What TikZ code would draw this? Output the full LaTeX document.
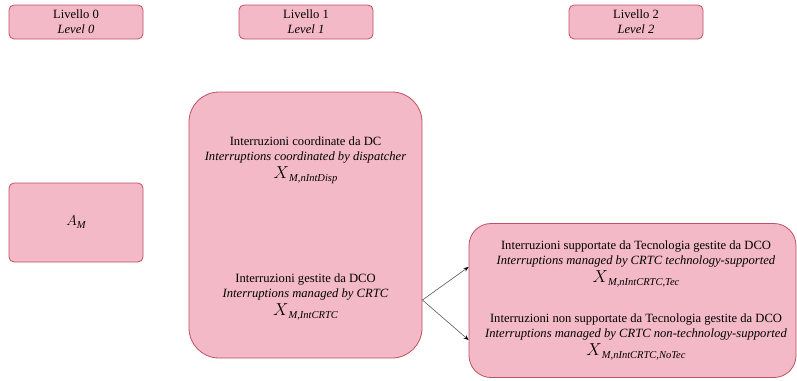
\documentclass[tikz,border=0pt]{standalone}
\usepackage{fontspec}
\setmainfont{Liberation Serif}
\usetikzlibrary{positioning,calc,arrows.meta}
\definecolor{boxfill}{RGB}{244,185,198}
\definecolor{boxline}{RGB}{192,80,99}
\newcommand{\Xm}[1]{{\fontsize{16}{16}\selectfont$X$}{\fontsize{10.5}{10}\selectfont\raisebox{-3pt}{\itshape #1}}}

\begin{document}
\begin{tikzpicture}[x=1pt,y=-1pt,
    lvl/.style={draw=boxline,fill=boxfill,line width=0.8pt,rounded corners=5pt,minimum width=134pt,minimum height=34pt,inner sep=0pt,align=center,font=\fontsize{12.6}{15}\selectfont},
    txt/.style={align=center,inner sep=0pt,font=\fontsize{12.6}{15}\selectfont},
    arr/.style={draw=black!65,line width=0.6pt,-{Stealth[length=5pt,width=4pt,color=black]}}]
    \useasboundingbox (0,0) rectangle (797,380);
	  \node[lvl] (lv0) at (76,22) {Livello 0\\ \textit{Level 0}};
	  \node[lvl] (lv1) at (306,22) {Livello 1\\ \textit{Level 1}};
	  \node[lvl] (lv2) at (636,22) {Livello 2\\ \textit{Level 2}};
		\node[lvl,minimum height=79pt] (am) at (76,222.5) {{\fontsize{15}{15}\selectfont$A$}{\fontsize{10.5}{10}\selectfont\raisebox{-3pt}{\itshape M}}};
		\node[lvl,rounded corners=30pt,minimum width=233pt,minimum height=266pt] (big) at (305.5,225) {};
		\node[lvl,rounded corners=22pt,minimum width=327pt,minimum height=154pt] (sub) at (632.5,300.5) {};
		\node[txt] (disp) at (305.5,160) {Interruzioni coordinate da DC\\ \textit{Interruptions coordinated by dispatcher}\\[3pt] \Xm{M,nIntDisp}};
		\node[txt] (crtc) at (305.5,297) {Interruzioni gestite da DCO\\ \textit{Interruptions managed by CRTC}\\[3pt] \Xm{M,IntCRTC}};
		\node[txt] (tec) at (636,264) {Interruzioni supportate da Tecnologia gestite da DCO\\ \textit{Interruptions managed by CRTC technology-supported}\\[3pt] \Xm{M,nIntCRTC,Tec}};
		\node[txt] (notec) at (636,337) {Interruzioni non supportate da Tecnologia gestite da DCO\\ \textit{Interruptions managed by CRTC non-technology-supported}\\[3pt] \Xm{M,nIntCRTC,NoTec}};
		\coordinate (fork) at (big.east |- 0,300);
		\draw[arr] (fork) -- (sub.west |- 0,267);
		\draw[arr] (fork) -- (sub.west |- 0,340);
\end{tikzpicture}
\end{document}
